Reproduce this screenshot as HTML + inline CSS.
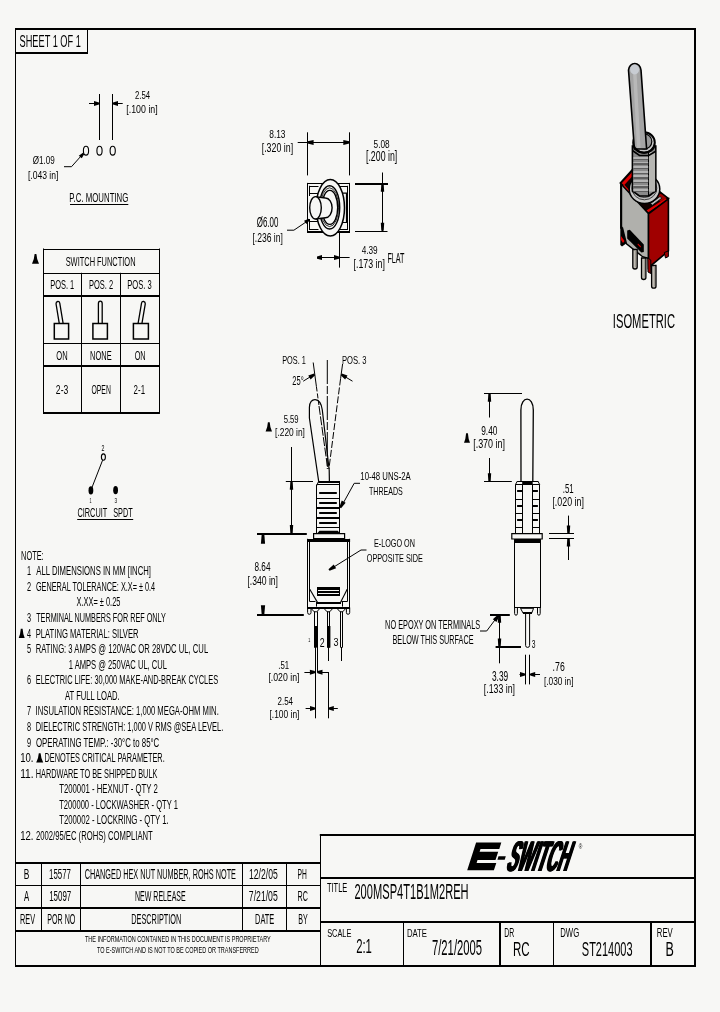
<!DOCTYPE html>
<html><head><meta charset="utf-8"><title>200MSP4T1B1M2REH</title>
<style>
html,body{margin:0;padding:0;background:#f7f7f5;}
body{width:720px;height:1012px;overflow:hidden;font-family:"Liberation Sans",sans-serif;}
svg{display:block;will-change:transform;}
</style></head><body>
<svg width="720" height="1012" viewBox="0 0 720 1012">
<rect x="0" y="0" width="720" height="1012" fill="#f7f7f5"/>
<rect x="15" y="28" width="681" height="2" fill="#000"/>
<rect x="15" y="28" width="1" height="938.5" fill="#000"/>
<rect x="694" y="28" width="2" height="938.5" fill="#000"/>
<rect x="15" y="965" width="681" height="2" fill="#000"/>
<rect x="87" y="28" width="1" height="25.6" fill="#000"/>
<rect x="15" y="52" width="73" height="2" fill="#000"/>
<text transform="translate(19.58 46.83) scale(0.5367 1)" font-size="17.18" font-family="Liberation Sans" fill="#000">SHEET 1 OF 1</text>
<rect x="99" y="94" width="1" height="46" fill="#000"/>
<rect x="112" y="94" width="1" height="46" fill="#000"/>
<rect x="89" y="103" width="10" height="1" fill="#000"/>
<rect x="113" y="103" width="9.7" height="1" fill="#000"/>
<polygon points="99,102.38 99,104.62 94,106 94,101" fill="#000"/>
<polygon points="113,102.38 113,104.62 118,106 118,101" fill="#000"/>
<text transform="translate(134.91 99.49) scale(0.7077 1)" font-size="10.99" font-family="Liberation Sans" fill="#000">2.54</text>
<text transform="translate(126.28 112.64) scale(0.7875 1)" font-size="11.23" font-family="Liberation Sans" fill="#000">[.100 in]</text>
<ellipse cx="86" cy="150.7" rx="2.6" ry="4.4" stroke="#000" stroke-width="1.1" fill="none"/>
<ellipse cx="99.5" cy="150.7" rx="2.6" ry="4.4" stroke="#000" stroke-width="1.1" fill="none"/>
<ellipse cx="112.7" cy="150.7" rx="2.6" ry="4.4" stroke="#000" stroke-width="1.1" fill="none"/>
<polyline points="64,166.7 71.5,166.7 81.5,155.5" stroke="#000" stroke-width="1" fill="none" stroke-linejoin="miter"/>
<polygon points="84.27,153.9 82.93,152.7 78.76,155.67 81.73,158.35" fill="#000"/>
<text transform="translate(32.72 163.72) scale(0.7176 1)" font-size="11.28" font-family="Liberation Sans" fill="#000">Ø1.09</text>
<text transform="translate(27.9 178.71) scale(0.7865 1)" font-size="10.91" font-family="Liberation Sans" fill="#000">[.043 in]</text>
<text transform="translate(69.37 201.68) scale(0.6315 1)" font-size="12.39" font-family="Liberation Sans" fill="#000">P.C. MOUNTING</text>
<rect x="70" y="204" width="58.3" height="1" fill="#000"/>
<rect x="307" y="132.3" width="1" height="43.1" fill="#000"/>
<rect x="349" y="132.3" width="1" height="43.1" fill="#000"/>
<rect x="297.7" y="142" width="51.8" height="1" fill="#000"/>
<polygon points="307.6,141.28 307.6,143.53 313.6,144.9 313.6,139.9" fill="#000"/>
<polygon points="349.3,141.28 349.3,143.53 343.3,144.9 343.3,139.9" fill="#000"/>
<text transform="translate(269.22 138.48) scale(0.7262 1)" font-size="11.55" font-family="Liberation Sans" fill="#000">8.13</text>
<text transform="translate(261.68 151.5) scale(0.6890 1)" font-size="12.83" font-family="Liberation Sans" fill="#000">[.320 in]</text>
<rect x="355" y="183" width="33" height="2" fill="#000"/>
<rect x="355" y="231" width="32.5" height="1" fill="#000"/>
<rect x="382" y="172.5" width="1" height="59" fill="#000"/>
<polygon points="381.31,183.8 383.69,183.8 384.2,191.8 380.8,191.8" fill="#000"/>
<polygon points="381.31,230.8 383.69,230.8 384.2,222.8 380.8,222.8" fill="#000"/>
<text transform="translate(373.57 147.88) scale(0.7150 1)" font-size="11.55" font-family="Liberation Sans" fill="#000">5.08</text>
<text transform="translate(365.99 161.26) scale(0.6270 1)" font-size="14.01" font-family="Liberation Sans" fill="#000">[.200 in]</text>
<rect x="307.2" y="183" width="42.8" height="1" fill="#000"/>
<rect x="307.2" y="231" width="42.8" height="2" fill="#000"/>
<rect x="307" y="182.9" width="1" height="50" fill="#000"/>
<rect x="349" y="182.9" width="1" height="50" fill="#000"/>
<rect x="309" y="186" width="9.5" height="1" fill="#000"/>
<rect x="339" y="186" width="9" height="1" fill="#000"/>
<rect x="309" y="229" width="9.5" height="1" fill="#000"/>
<rect x="339" y="229" width="9" height="1" fill="#000"/>
<rect x="309" y="185.8" width="1" height="10.2" fill="#000"/>
<rect x="309" y="219" width="1" height="11" fill="#000"/>
<rect x="347" y="185.8" width="1" height="44.2" fill="#000"/>
<rect x="310" y="193" width="8" height="1" fill="#000"/>
<rect x="310" y="221" width="8" height="1" fill="#000"/>
<polyline points="340,193.2 346.5,193.2 346.5,222.5 340,222.5" stroke="#000" stroke-width="1.2" fill="none" stroke-linejoin="miter"/>
<ellipse cx="330.3" cy="207.8" rx="14.2" ry="28.2" stroke="#000" stroke-width="1.5" fill="#f7f7f5"/>
<ellipse cx="329.6" cy="207.4" rx="10.1" ry="21.6" stroke="#000" stroke-width="1.4" fill="none"/>
<ellipse cx="329.6" cy="207.2" rx="9" ry="19.4" stroke="#000" stroke-width="0.8" fill="none"/>
<ellipse cx="329.8" cy="207.4" rx="7.9" ry="17" stroke="#000" stroke-width="1.4" fill="none"/>
<path d="M315.5,196.7 L325.5,198.0 A6.6,9.85 0 0 1 325.5,217.7 L315.5,219" stroke="#000" stroke-width="1.4" fill="#f7f7f5"/>
<ellipse cx="315.5" cy="207.8" rx="5.8" ry="11.2" stroke="#000" stroke-width="1.4" fill="#f7f7f5"/>
<polyline points="287,230.2 293.9,230.2 306,222" stroke="#000" stroke-width="1" fill="none" stroke-linejoin="miter"/>
<polygon points="309.81,220.34 308.79,218.86 304.05,220.79 306.32,224.08" fill="#000"/>
<text transform="translate(256.72 226.84) scale(0.5482 1)" font-size="14.5" font-family="Liberation Sans" fill="#000">Ø6.00</text>
<text transform="translate(252.4 242.17) scale(0.6345 1)" font-size="13.48" font-family="Liberation Sans" fill="#000">[.236 in]</text>
<rect x="339" y="233" width="1" height="34.6" fill="#000"/>
<rect x="317" y="257" width="32.6" height="1" fill="#000"/>
<polygon points="317,256.48 317,258.73 322,260.1 322,255.1" fill="#000"/>
<polygon points="339,256.48 339,258.73 334,260.1 334,255.1" fill="#000"/>
<text transform="translate(361.64 254.28) scale(0.7139 1)" font-size="11.55" font-family="Liberation Sans" fill="#000">4.39</text>
<text transform="translate(353.58 267.61) scale(0.6646 1)" font-size="13.26" font-family="Liberation Sans" fill="#000">[.173 in]</text>
<text transform="translate(387.42 262.8) scale(0.5139 1)" font-size="14.06" font-family="Liberation Sans" fill="#000">FLAT</text>
<path d="M620.3,183 L632,170 L668.4,198.5 L648.5,213.5 Z" stroke="#000" stroke-width="1.6" fill="#100000"/>
<polygon points="621.8,183.2 632.2,172 634.5,174 624,185.2" fill="#e00000"/>
<polygon points="646.5,210.5 665.5,198.3 667.3,199.6 648.4,212.3" fill="#e00000"/>
<polygon points="656,192 662,194.5 666.5,198 660,202" fill="#a00000"/>
<polygon points="622.5,185.5 624.5,185 629.5,190.5 627.5,192" fill="#e00000"/>
<path d="M650.5,203.5 L660,196.5 L661.8,198.2 L652.3,205.2 Z" stroke="#000" stroke-width="0.8" fill="#b8b8b8"/>
<path d="M620.8,183.8 L648.5,213.8 L648.5,258.5 L642.6,256.7 L626.5,243.8 L622.5,228 L620.8,228 Z" stroke="#000" stroke-width="1.4" fill="#b0b0ac"/>
<path d="M620.3,184 L622.2,186 L622.2,226 L626.2,243.5 L622,246.5 L620.3,245 Z" stroke="#000" stroke-width="0" fill="#000"/>
<polygon points="621,236 624.5,241 623,243 621,240" fill="#e00000"/>
<path d="M627.2,230.5 L629.8,229.8 L643.8,244.5 L643.8,252 L641.3,252.5 L627.2,238.5 Z" stroke="#000" stroke-width="0" fill="#000"/>
<polygon points="638,243.5 641,246.5 640.5,247.5 637.5,244.5" fill="#e00000"/>
<path d="M648.5,213.8 L668.4,198.8 L668.4,251 L648.5,267.7 Z" stroke="#000" stroke-width="1.6" fill="#a00000"/>
<path d="M664.3,252.5 L668.4,251 L668.4,256.5 L665.5,258 Z" stroke="#000" stroke-width="1" fill="#a00000"/>
<path d="M647.8,258 L650.8,260 L650.8,273.5 L648,272 Z" stroke="#000" stroke-width="1" fill="#a00000"/>
<path d="M632.8,249.5 L637.2,249.5 L637.2,267 Q637.2,269 635,269 Q632.8,269 632.8,267 Z" stroke="#000" stroke-width="1.3" fill="#c0bcb4"/>
<rect x="635" y="250.5" width="1" height="16.5" fill="#a09c94"/>
<path d="M641.5,258 L645.9,258 L645.9,277.5 Q645.9,279.5 643.7,279.5 Q641.5,279.5 641.5,277.5 Z" stroke="#000" stroke-width="1.3" fill="#c0bcb4"/>
<rect x="644" y="259" width="1" height="18.5" fill="#a09c94"/>
<path d="M651.6,265.5 L656,265.5 L656,286.2 Q656,288.2 653.8,288.2 Q651.6,288.2 651.6,286.2 Z" stroke="#000" stroke-width="1.3" fill="#c0bcb4"/>
<rect x="654" y="266.5" width="1" height="19.7" fill="#a09c94"/>
<ellipse cx="644.5" cy="189" rx="15.3" ry="14.6" stroke="#000" stroke-width="1.5" fill="#c8c8c8"/>
<ellipse cx="644.4" cy="188.2" rx="12.4" ry="11.6" stroke="#404040" stroke-width="1" fill="#bcbcbc"/>
<ellipse cx="644.3" cy="187.6" rx="10.8" ry="9.8" stroke="#303030" stroke-width="1" fill="#c4c4c4"/>
<path d="M632.4,146 L655.8,146 L655.8,191 L648.7,196 L639.5,196 L632.4,191 Z" stroke="#000" stroke-width="1.6" fill="#8a8a8a"/>
<rect x="648.7" y="152" width="6.4" height="39.5" fill="#b6b6b2"/>
<rect x="648" y="152" width="1" height="44" fill="#000"/>
<rect x="633.4" y="157" width="14.8" height="2" fill="#b4b4b4"/>
<rect x="633.4" y="159" width="14.8" height="1" fill="#5e5e5e"/>
<rect x="633.4" y="162" width="14.8" height="1" fill="#b4b4b4"/>
<rect x="633.4" y="163" width="14.8" height="2" fill="#5e5e5e"/>
<rect x="633.4" y="166" width="14.8" height="2" fill="#b4b4b4"/>
<rect x="633.4" y="168" width="14.8" height="1" fill="#5e5e5e"/>
<rect x="633.4" y="171" width="14.8" height="2" fill="#b4b4b4"/>
<rect x="633.4" y="173" width="14.8" height="1" fill="#5e5e5e"/>
<rect x="633.4" y="175" width="14.8" height="2" fill="#b4b4b4"/>
<rect x="633.4" y="177" width="14.8" height="2" fill="#5e5e5e"/>
<rect x="633.4" y="180" width="14.8" height="2" fill="#b4b4b4"/>
<rect x="633.4" y="182" width="14.8" height="1" fill="#5e5e5e"/>
<rect x="633.4" y="185" width="14.8" height="1" fill="#b4b4b4"/>
<rect x="633.4" y="186" width="14.8" height="2" fill="#5e5e5e"/>
<rect x="633.4" y="189" width="14.8" height="2" fill="#b4b4b4"/>
<rect x="633.4" y="191" width="14.8" height="1" fill="#5e5e5e"/>
<polyline points="632.4,150.5 639.5,155.5 648.7,155.5 655.8,151.3" stroke="#000" stroke-width="1.6" fill="none" stroke-linejoin="miter"/>
<ellipse cx="644" cy="142.5" rx="10.8" ry="10.2" stroke="#000" stroke-width="2" fill="#c8c8c8"/>
<ellipse cx="644.3" cy="141.5" rx="7.5" ry="7.5" stroke="#000" stroke-width="1.2" fill="#9a9a9a"/>
<path d="M628.5,70 A6.3,7.5 0 0 1 641,70 L646.6,149 L634.4,149 Z" stroke="#000" stroke-width="1.6" fill="#a4a4a4"/>
<path d="M633,72 L636.5,72 L640.5,148 L637,148 Z" stroke="#000" stroke-width="0" fill="#b8b8b8"/>
<ellipse cx="634.6" cy="69.5" rx="4.5" ry="5" stroke="none" stroke-width="0" fill="#c8ccd2"/>
<path d="M633.6,145 A10.6,9 0 0 0 654.6,145" stroke="#000" stroke-width="2" fill="none"/>
<text transform="translate(612.79 328.19) scale(0.5454 1)" font-size="20.56" font-family="Liberation Sans" fill="#000">ISOMETRIC</text>
<path d="M34.6,254 L36.4,254 Q36.8,259.88 39,263.8 L32,263.8 Q34.2,259.88 34.6,254 Z" stroke="#000" stroke-width="0" fill="#000"/>
<rect x="43" y="248.5" width="1" height="165.1" fill="#000"/>
<rect x="159" y="248.5" width="1" height="165.1" fill="#000"/>
<rect x="43" y="249" width="116.8" height="1" fill="#000"/>
<rect x="43" y="273" width="116.8" height="1" fill="#000"/>
<rect x="43" y="295" width="116.8" height="2" fill="#000"/>
<rect x="43" y="343" width="116.8" height="1" fill="#000"/>
<rect x="43" y="365" width="116.8" height="2" fill="#000"/>
<rect x="43" y="412" width="116.8" height="2" fill="#000"/>
<rect x="81" y="272.8" width="1" height="140.2" fill="#000"/>
<rect x="120" y="272.8" width="1" height="140.2" fill="#000"/>
<text transform="translate(65.66 265.67) scale(0.5689 1)" font-size="13.1" font-family="Liberation Sans" fill="#000">SWITCH FUNCTION</text>
<text transform="translate(50.2 288.56) scale(0.5454 1)" font-size="13.66" font-family="Liberation Sans" fill="#000">POS. 1</text>
<text transform="translate(89 288.56) scale(0.5487 1)" font-size="13.66" font-family="Liberation Sans" fill="#000">POS. 2</text>
<text transform="translate(127.19 288.56) scale(0.5563 1)" font-size="13.66" font-family="Liberation Sans" fill="#000">POS. 3</text>
<polygon points="54.3,323.5 68.6,323.5 68.6,339 54.3,339" stroke="#000" stroke-width="1.5" fill="none" stroke-linejoin="miter"/>
<path d="M63.07,323.19 L59.77,303.19 A1.9,2.28 0 0 0 56.03,303.81 L59.33,323.81" stroke="#000" stroke-width="1.3" fill="none"/>
<polygon points="92.9,323.5 107.4,323.5 107.4,339 92.9,339" stroke="#000" stroke-width="1.5" fill="none" stroke-linejoin="miter"/>
<path d="M102.2,323.5 L102.2,303.5 A1.9,2.28 0 0 0 98.4,303.5 L98.4,323.5" stroke="#000" stroke-width="1.3" fill="none"/>
<polygon points="133.4,323.5 148.4,323.5 148.4,339 133.4,339" stroke="#000" stroke-width="1.5" fill="none" stroke-linejoin="miter"/>
<path d="M141.87,323.82 L145.27,303.82 A1.9,2.28 0 0 0 141.53,303.18 L138.13,323.18" stroke="#000" stroke-width="1.3" fill="none"/>
<text transform="translate(56.26 359.67) scale(0.5837 1)" font-size="12.96" font-family="Liberation Sans" fill="#000">ON</text>
<text transform="translate(90.1 359.67) scale(0.5750 1)" font-size="12.96" font-family="Liberation Sans" fill="#000">NONE</text>
<text transform="translate(134.67 359.67) scale(0.5613 1)" font-size="12.96" font-family="Liberation Sans" fill="#000">ON</text>
<text transform="translate(55.87 394.17) scale(0.6664 1)" font-size="12.96" font-family="Liberation Sans" fill="#000">2-3</text>
<text transform="translate(91.49 394.17) scale(0.5278 1)" font-size="12.96" font-family="Liberation Sans" fill="#000">OPEN</text>
<text transform="translate(133.6 394.3) scale(0.6031 1)" font-size="13.14" font-family="Liberation Sans" fill="#000">2-1</text>
<text transform="translate(101.54 450.8) scale(0.5955 1)" font-size="8.86" font-family="Liberation Sans" fill="#000">2</text>
<ellipse cx="103.4" cy="457.1" rx="2" ry="3.2" stroke="#000" stroke-width="1.1" fill="none"/>
<line x1="102.6" y1="460.2" x2="91.2" y2="489.5" stroke="#000" stroke-width="1" stroke-linecap="butt"/>
<ellipse cx="90.9" cy="490.4" rx="2.4" ry="4.1" stroke="none" stroke-width="0" fill="#000"/>
<ellipse cx="115.6" cy="490.2" rx="2.4" ry="4.1" stroke="none" stroke-width="0" fill="#000"/>
<text transform="translate(89.52 503.2) scale(0.4700 1)" font-size="7.83" font-family="Liberation Sans" fill="#000">1</text>
<text transform="translate(114.41 503.12) scale(0.6090 1)" font-size="7.61" font-family="Liberation Sans" fill="#000">3</text>
<text transform="translate(77.43 516.67) scale(0.5886 1)" font-size="12.54" font-family="Liberation Sans" fill="#000">CIRCUIT</text>
<text transform="translate(113.17 516.67) scale(0.5830 1)" font-size="12.54" font-family="Liberation Sans" fill="#000">SPDT</text>
<rect x="77.2" y="519" width="56" height="1" fill="#000"/>
<text transform="translate(21.11 559.8) scale(0.5724 1)" font-size="12.9" font-family="Liberation Sans" fill="#000">NOTE:</text>
<text transform="translate(36.3 575.36) scale(0.5990 1)" font-size="12.9" font-family="Liberation Sans" fill="#000">ALL DIMENSIONS IN MM [INCH]</text>
<text transform="translate(27.05 575.36) scale(0.5700 1)" font-size="12.9" font-family="Liberation Sans">1</text>
<text transform="translate(35.93 590.92) scale(0.5660 1)" font-size="12.9" font-family="Liberation Sans" fill="#000">GENERAL TOLERANCE: X.X= ± 0.4</text>
<text transform="translate(27.09 590.92) scale(0.5700 1)" font-size="12.9" font-family="Liberation Sans">2</text>
<text transform="translate(76.51 606.48) scale(0.5765 1)" font-size="12.9" font-family="Liberation Sans" fill="#000">X.XX= ± 0.25</text>
<text transform="translate(36.15 622.04) scale(0.5629 1)" font-size="12.9" font-family="Liberation Sans" fill="#000">TERMINAL NUMBERS FOR REF ONLY</text>
<text transform="translate(27.01 622.04) scale(0.5700 1)" font-size="12.9" font-family="Liberation Sans">3</text>
<text transform="translate(35.69 637.6) scale(0.5937 1)" font-size="12.9" font-family="Liberation Sans" fill="#000">PLATING MATERIAL: SILVER</text>
<text transform="translate(26.94 637.6) scale(0.5700 1)" font-size="12.9" font-family="Liberation Sans">4</text>
<text transform="translate(35.69 653.16) scale(0.5949 1)" font-size="12.9" font-family="Liberation Sans" fill="#000">RATING: 3 AMPS @ 120VAC OR 28VDC  UL, CUL</text>
<text transform="translate(27.01 653.16) scale(0.5700 1)" font-size="12.9" font-family="Liberation Sans">5</text>
<text transform="translate(68.73 668.72) scale(0.5891 1)" font-size="12.9" font-family="Liberation Sans" fill="#000">1 AMPS @ 250VAC  UL, CUL</text>
<text transform="translate(35.7 684.28) scale(0.5784 1)" font-size="12.9" font-family="Liberation Sans" fill="#000">ELECTRIC LIFE: 30,000 MAKE-AND-BREAK CYCLES</text>
<text transform="translate(27.01 684.28) scale(0.5700 1)" font-size="12.9" font-family="Liberation Sans">6</text>
<text transform="translate(65 699.84) scale(0.5930 1)" font-size="12.9" font-family="Liberation Sans" fill="#000">AT FULL LOAD.</text>
<text transform="translate(35.61 715.4) scale(0.5957 1)" font-size="12.9" font-family="Liberation Sans" fill="#000">INSULATION RESISTANCE: 1,000 MEGA-OHM MIN.</text>
<text transform="translate(27.09 715.4) scale(0.5700 1)" font-size="12.9" font-family="Liberation Sans">7</text>
<text transform="translate(35.7 730.96) scale(0.5790 1)" font-size="12.9" font-family="Liberation Sans" fill="#000">DIELECTRIC STRENGTH: 1,000 V RMS @SEA LEVEL.</text>
<text transform="translate(27.01 730.96) scale(0.5700 1)" font-size="12.9" font-family="Liberation Sans">8</text>
<text transform="translate(35.95 746.52) scale(0.6082 1)" font-size="12.9" font-family="Liberation Sans" fill="#000">OPERATING TEMP.: -30°C to 85°C</text>
<text transform="translate(27.05 746.52) scale(0.5700 1)" font-size="12.9" font-family="Liberation Sans">9</text>
<text transform="translate(44.41 762.08) scale(0.5712 1)" font-size="12.9" font-family="Liberation Sans" fill="#000">DENOTES CRITICAL PARAMETER.</text>
<text transform="translate(20.18 762.08) scale(0.7435 1)" font-size="12.9" font-family="Liberation Sans" fill="#000">10.</text>
<text transform="translate(35.71 777.64) scale(0.5688 1)" font-size="12.9" font-family="Liberation Sans" fill="#000">HARDWARE TO BE SHIPPED BULK</text>
<text transform="translate(20.14 777.64) scale(0.7888 1)" font-size="12.9" font-family="Liberation Sans" fill="#000">11.</text>
<text transform="translate(59.14 793.2) scale(0.6027 1)" font-size="12.9" font-family="Liberation Sans" fill="#000">T200001 - HEXNUT - QTY 2</text>
<text transform="translate(59.15 808.76) scale(0.5877 1)" font-size="12.9" font-family="Liberation Sans" fill="#000">T200000 - LOCKWASHER - QTY 1</text>
<text transform="translate(59.14 824.32) scale(0.6037 1)" font-size="12.9" font-family="Liberation Sans" fill="#000">T200002 - LOCKRING - QTY 1.</text>
<text transform="translate(35.92 839.88) scale(0.5955 1)" font-size="12.9" font-family="Liberation Sans" fill="#000">2002/95/EC (ROHS) COMPLIANT</text>
<text transform="translate(20.18 839.88) scale(0.7435 1)" font-size="12.9" font-family="Liberation Sans" fill="#000">12.</text>
<path d="M20.8,628.7 L22.6,628.7 Q23,634.22 24.7,637.9 L18.7,637.9 Q20.4,634.22 20.8,628.7 Z" stroke="#000" stroke-width="0" fill="#000"/>
<path d="M38.8,753.18 L40.6,753.18 Q41,758.7 43.2,762.38 L36.2,762.38 Q38.4,758.7 38.8,753.18 Z" stroke="#000" stroke-width="0" fill="#000"/>
<text transform="translate(282.21 363.68) scale(0.6368 1)" font-size="11.55" font-family="Liberation Sans" fill="#000">POS. 1</text>
<text transform="translate(341.89 363.68) scale(0.6609 1)" font-size="11.55" font-family="Liberation Sans" fill="#000">POS. 3</text>
<text transform="translate(292.22 385.47) scale(0.5780 1)" font-size="13.1" font-family="Liberation Sans" fill="#000">25°</text>
<line x1="313.2" y1="362.5" x2="316.4" y2="386.5" stroke="#000" stroke-width="1" stroke-linecap="butt"/>
<path d="M316.4,386.5 L318.9,405" stroke="#000" stroke-width="1" fill="none" stroke-dasharray="5 2"/>
<line x1="342.6" y1="364" x2="340.6" y2="378.5" stroke="#000" stroke-width="1" stroke-linecap="butt"/>
<path d="M340.6,378.5 L328.9,469" stroke="#000" stroke-width="1" fill="none" stroke-dasharray="7 2"/>
<path d="M327.3,360 L327.3,469" stroke="#000" stroke-width="1" fill="none" stroke-dasharray="24 2 8 2"/>
<line x1="303.2" y1="381.2" x2="310" y2="377" stroke="#000" stroke-width="1" stroke-linecap="butt"/>
<polygon points="315.12,375.27 314.08,373.53 308.29,375.54 310.6,379.41" fill="#000"/>
<line x1="352.5" y1="381.2" x2="345.5" y2="377" stroke="#000" stroke-width="1" stroke-linecap="butt"/>
<polygon points="341.72,373.53 340.68,375.27 345.18,379.42 347.5,375.57" fill="#000"/>
<path d="M318.7,481.5 L309.4,418 L309.4,407.5 C309.4,397 320.5,396 322.3,410 L329.2,470 L329.4,481.5" stroke="#000" stroke-width="1.2" fill="none"/>
<path d="M319,406 L327.7,468.5" stroke="#000" stroke-width="1" fill="none" stroke-dasharray="9 1.5"/>
<rect x="318.3" y="481" width="21.3" height="2" fill="#000"/>
<rect x="317" y="484" width="22.6" height="1" fill="#000"/>
<line x1="316.8" y1="485.5" x2="318.6" y2="481.2" stroke="#000" stroke-width="1" stroke-linecap="butt"/>
<rect x="316" y="484.5" width="1" height="49" fill="#000"/>
<rect x="339" y="481" width="1" height="52.5" fill="#000"/>
<rect x="316.5" y="498" width="23.1" height="1" fill="#000"/>
<rect x="316.5" y="507" width="23.1" height="2" fill="#000"/>
<rect x="316.5" y="517" width="23.1" height="2" fill="#000"/>
<rect x="316.5" y="527" width="23.1" height="1" fill="#000"/>
<rect x="319.2" y="492" width="17.6" height="2" fill="#000"/>
<rect x="319.2" y="502" width="17.6" height="2" fill="#000"/>
<rect x="319.2" y="512" width="17.6" height="2" fill="#000"/>
<rect x="319.2" y="522" width="17.6" height="2" fill="#000"/>
<polygon points="317,533.6 319.5,530.8 337.8,530.8 340,533.6" fill="#000"/>
<polygon points="313.6,533.7 344.6,533.7 344.6,538.7 313.6,538.7" stroke="#000" stroke-width="1.2" fill="none" stroke-linejoin="miter"/>
<rect x="307.1" y="539" width="43" height="3" fill="#000"/>
<rect x="307" y="538.8" width="1" height="69.8" fill="#000"/>
<rect x="309" y="540.5" width="1" height="61" fill="#000"/>
<rect x="349" y="538.8" width="1" height="69.8" fill="#000"/>
<rect x="347" y="540.5" width="1" height="61" fill="#000"/>
<rect x="317" y="587" width="23" height="9" fill="#000"/>
<rect x="318" y="590" width="21" height="1" fill="#f7f7f5"/>
<rect x="318" y="593" width="21" height="1" fill="#f7f7f5"/>
<line x1="309.8" y1="589.2" x2="317.6" y2="602.6" stroke="#000" stroke-width="1.1" stroke-linecap="butt"/>
<line x1="347.2" y1="589.2" x2="340.5" y2="602.6" stroke="#000" stroke-width="1.1" stroke-linecap="butt"/>
<rect x="317" y="602" width="24" height="2" fill="#000"/>
<rect x="309.6" y="601" width="5.9" height="1" fill="#000"/>
<rect x="341.5" y="601" width="5.9" height="1" fill="#000"/>
<rect x="316" y="602" width="1" height="4.6" fill="#000"/>
<rect x="342" y="602" width="1" height="4.6" fill="#000"/>
<rect x="307.2" y="607" width="42.6" height="2" fill="#000"/>
<path d="M307.6,607.5 L307.6,612.5 Q307.6,614.3 309.3,614.3 Q311,614.3 311,612.5 L311,608.5" stroke="#000" stroke-width="1" fill="none"/>
<path d="M346.4,608.5 L346.4,612.5 Q346.4,614.3 348.1,614.3 Q349.7,614.3 349.7,612.5 L349.7,607.5" stroke="#000" stroke-width="1" fill="none"/>
<path d="M311,608.3 L320,608.3 L316.8,611.8 L314.2,611.8 Z" stroke="#000" stroke-width="1" fill="none"/>
<path d="M323.9,608.3 L332.9,608.3 L329.7,611.8 L327.1,611.8 Z" stroke="#000" stroke-width="1" fill="none"/>
<path d="M336.9,608.3 L345.9,608.3 L342.7,611.8 L340.1,611.8 Z" stroke="#000" stroke-width="1" fill="none"/>
<rect x="314" y="611.5" width="1" height="36.1" fill="#000"/>
<rect x="317" y="611.5" width="1" height="36.1" fill="#000"/>
<rect x="327" y="611.5" width="1" height="36.1" fill="#000"/>
<rect x="329" y="611.5" width="1" height="36.1" fill="#000"/>
<rect x="340" y="611.5" width="1" height="36.1" fill="#000"/>
<rect x="342" y="611.5" width="1" height="36.1" fill="#000"/>
<rect x="314.4" y="626" width="3.2" height="21.6" fill="#000"/>
<rect x="327.2" y="626" width="3.2" height="21.6" fill="#000"/>
<rect x="315" y="647" width="1" height="71.3" fill="#000"/>
<rect x="328" y="647" width="1" height="14" fill="#000"/>
<rect x="341" y="647" width="1" height="14" fill="#000"/>
<rect x="317" y="647" width="1" height="25.5" fill="#000"/>
<rect x="328" y="672" width="1" height="46.3" fill="#000"/>
<text transform="translate(308.32 641.6) scale(0.6859 1)" font-size="5.36" font-family="Liberation Sans" fill="#000">1</text>
<text transform="translate(319.66 647.4) scale(0.6838 1)" font-size="12.86" font-family="Liberation Sans" fill="#000">2</text>
<text transform="translate(333.54 646.09) scale(0.8034 1)" font-size="11.27" font-family="Liberation Sans" fill="#000">3</text>
<rect x="304.4" y="672" width="10.5" height="1" fill="#000"/>
<polygon points="314.9,671.08 314.9,673.33 309.9,674.7 309.9,669.7" fill="#000"/>
<rect x="317.5" y="672" width="11" height="1" fill="#000"/>
<polygon points="317.5,671.08 317.5,673.33 322.5,674.7 322.5,669.7" fill="#000"/>
<text transform="translate(278.3 668.69) scale(0.7008 1)" font-size="11.14" font-family="Liberation Sans" fill="#000">.51</text>
<text transform="translate(268.39 680.99) scale(0.7921 1)" font-size="11.02" font-family="Liberation Sans" fill="#000">[.020 in]</text>
<rect x="305.6" y="708" width="9.4" height="1" fill="#000"/>
<polygon points="315,707.38 315,709.62 310,711 310,706" fill="#000"/>
<rect x="328.8" y="708" width="9" height="1" fill="#000"/>
<polygon points="328.8,707.38 328.8,709.62 333.8,711 333.8,706" fill="#000"/>
<text transform="translate(277.5 704.79) scale(0.7563 1)" font-size="10.56" font-family="Liberation Sans" fill="#000">2.54</text>
<text transform="translate(269.51 717.62) scale(0.7413 1)" font-size="11.34" font-family="Liberation Sans" fill="#000">[.100 in]</text>
<path d="M267.9,422.2 L269.7,422.2 Q270.1,427.84 272,431.6 L265.6,431.6 Q267.5,427.84 267.9,422.2 Z" stroke="#000" stroke-width="0" fill="#000"/>
<text transform="translate(283.69 423.18) scale(0.6657 1)" font-size="11.55" font-family="Liberation Sans" fill="#000">5.59</text>
<text transform="translate(275.11 436.13) scale(0.7143 1)" font-size="11.76" font-family="Liberation Sans" fill="#000">[.220 in]</text>
<rect x="291" y="447" width="1" height="86.5" fill="#000"/>
<rect x="285.8" y="481" width="27.2" height="1" fill="#000"/>
<rect x="257" y="533" width="49.8" height="2" fill="#000"/>
<polygon points="290.31,481.8 292.69,481.8 293.2,489.8 289.8,489.8" fill="#000"/>
<polygon points="290.31,533 292.69,533 293.2,525 289.8,525" fill="#000"/>
<polygon points="261.63,535 264.37,535 265.1,543.7 260.9,543.7" fill="#000"/>
<polygon points="261.63,614 264.37,614 265.1,605.3 260.9,605.3" fill="#000"/>
<rect x="257" y="614" width="46.8" height="2" fill="#000"/>
<text transform="translate(254.53 570.67) scale(0.6180 1)" font-size="13.24" font-family="Liberation Sans" fill="#000">8.64</text>
<text transform="translate(247.4 584.5) scale(0.6708 1)" font-size="12.83" font-family="Liberation Sans" fill="#000">[.340 in]</text>
<text transform="translate(360.32 480.2) scale(0.7452 1)" font-size="10.42" font-family="Liberation Sans" fill="#000">10-48 UNS-2A</text>
<text transform="translate(368.96 495.48) scale(0.6066 1)" font-size="11.69" font-family="Liberation Sans" fill="#000">THREADS</text>
<polyline points="360,483.3 354.2,483.3 343,503.5" stroke="#000" stroke-width="1" fill="none" stroke-linejoin="miter"/>
<polygon points="339.32,507.2 341.08,508.2 345.64,502.75 341.73,500.51" fill="#000"/>
<text transform="translate(373.92 546.59) scale(0.6597 1)" font-size="10.99" font-family="Liberation Sans" fill="#000">E-LOGO ON</text>
<text transform="translate(366.77 562.08) scale(0.6229 1)" font-size="11.69" font-family="Liberation Sans" fill="#000">OPPOSITE SIDE</text>
<polyline points="366.5,550 361,550 333,567.5" stroke="#000" stroke-width="1" fill="none" stroke-linejoin="miter"/>
<polygon points="328.46,569.14 329.54,570.86 336.13,568.2 333.74,564.38" fill="#000"/>
<rect x="484" y="393" width="38" height="1" fill="#000"/>
<rect x="489" y="393.5" width="1" height="24" fill="#000"/>
<rect x="489" y="458" width="1" height="23.5" fill="#000"/>
<polygon points="488.31,393.8 490.69,393.8 491.2,401.8 487.8,401.8" fill="#000"/>
<polygon points="488.31,481.2 490.69,481.2 491.2,473.2 487.8,473.2" fill="#000"/>
<text transform="translate(481.22 434.66) scale(0.6123 1)" font-size="13.66" font-family="Liberation Sans" fill="#000">9.40</text>
<text transform="translate(473.17 447.81) scale(0.6756 1)" font-size="13.26" font-family="Liberation Sans" fill="#000">[.370 in]</text>
<path d="M466.1,433.2 L467.9,433.2 Q468.3,438.96 470,442.8 L464,442.8 Q465.7,438.96 466.1,433.2 Z" stroke="#000" stroke-width="0" fill="#000"/>
<rect x="484" y="481" width="27.8" height="1" fill="#000"/>
<path d="M521.0,481 L520.9,410 C520.9,395.5 533.3,395.5 533.3,410 L532.8,481" stroke="#000" stroke-width="1.3" fill="none"/>
<rect x="517.1" y="481" width="21.1" height="1" fill="#000"/>
<line x1="515.5" y1="484.5" x2="517.3" y2="481.2" stroke="#000" stroke-width="1" stroke-linecap="butt"/>
<line x1="539.7" y1="484.5" x2="537.9" y2="481.2" stroke="#000" stroke-width="1" stroke-linecap="butt"/>
<rect x="516" y="484" width="6.5" height="1" fill="#000"/>
<rect x="532.4" y="484" width="6.8" height="1" fill="#000"/>
<rect x="522.2" y="481.2" width="10.5" height="3.8" fill="#000"/>
<rect x="515" y="484.2" width="1" height="48.8" fill="#000"/>
<rect x="539" y="484.2" width="1" height="48.8" fill="#000"/>
<rect x="522" y="484.2" width="1" height="48.8" fill="#000"/>
<rect x="532" y="484.2" width="1" height="48.8" fill="#000"/>
<rect x="515.5" y="499" width="7" height="1" fill="#000"/>
<rect x="532.2" y="499" width="7.3" height="1" fill="#000"/>
<rect x="515.5" y="513" width="7" height="1" fill="#000"/>
<rect x="532.2" y="513" width="7.3" height="1" fill="#000"/>
<rect x="515.5" y="527" width="7" height="1" fill="#000"/>
<rect x="532.2" y="527" width="7.3" height="1" fill="#000"/>
<rect x="517.1" y="490" width="5" height="2" fill="#000"/>
<rect x="532.9" y="490" width="5" height="2" fill="#000"/>
<rect x="517.1" y="505" width="5" height="2" fill="#000"/>
<rect x="532.9" y="505" width="5" height="2" fill="#000"/>
<rect x="517.1" y="519" width="5" height="2" fill="#000"/>
<rect x="532.9" y="519" width="5" height="2" fill="#000"/>
<polygon points="511.8,533.6 542.2,533.6 542.2,539 511.8,539" stroke="#000" stroke-width="1.2" fill="none" stroke-linejoin="miter"/>
<rect x="514.2" y="539" width="26.5" height="4" fill="#000"/>
<rect x="514" y="539.3" width="1" height="68.7" fill="#000"/>
<rect x="540" y="539.3" width="1" height="68.7" fill="#000"/>
<rect x="514.1" y="607" width="26.6" height="1" fill="#000"/>
<path d="M514.6,607.8 L514.6,613.5 Q514.6,615.2 516,615.2 Q517.4,615.2 517.4,613.5 L517.4,607.8" stroke="#000" stroke-width="1" fill="none"/>
<path d="M537.5,607.8 L537.5,613.5 Q537.5,615.2 538.9,615.2 Q540.2,615.2 540.2,613.5 L540.2,607.8" stroke="#000" stroke-width="1" fill="none"/>
<path d="M520.5,608.3 L533.6,608.3 L531.6,613.3 L523.2,613.3 Z" stroke="#000" stroke-width="1" fill="none"/>
<rect x="523" y="612" width="9" height="2" fill="#000"/>
<path d="M525.6,614 L525.6,645.5 Q525.6,647.4 527.6,647.4 Q529.6,647.4 529.6,645.5 L529.6,614" stroke="#000" stroke-width="1" fill="none"/>
<text transform="translate(531.73 648.49) scale(0.6132 1)" font-size="10.99" font-family="Liberation Sans" fill="#000">3</text>
<text transform="translate(562.69 493.17) scale(0.6002 1)" font-size="13.14" font-family="Liberation Sans" fill="#000">.51</text>
<text transform="translate(552.38 505.79) scale(0.7152 1)" font-size="12.41" font-family="Liberation Sans" fill="#000">[.020 in]</text>
<rect x="549" y="533" width="25" height="1" fill="#000"/>
<rect x="549" y="538" width="25" height="1" fill="#000"/>
<rect x="568" y="515.6" width="1" height="17.9" fill="#000"/>
<rect x="568" y="538.5" width="1" height="21.5" fill="#000"/>
<polygon points="567.31,533.5 569.69,533.5 570.2,525.5 566.8,525.5" fill="#000"/>
<polygon points="567.31,538.5 569.69,538.5 570.2,546.5 566.8,546.5" fill="#000"/>
<rect x="490" y="614" width="19.8" height="2" fill="#000"/>
<rect x="495.6" y="646" width="25.4" height="2" fill="#000"/>
<rect x="499" y="614.5" width="1" height="48.8" fill="#000"/>
<polygon points="498.31,614.8 500.69,614.8 501.2,622.8 497.8,622.8" fill="#000"/>
<polygon points="498.31,646.5 500.69,646.5 501.2,638.5 497.8,638.5" fill="#000"/>
<text transform="translate(491.97 680.86) scale(0.5976 1)" font-size="13.94" font-family="Liberation Sans" fill="#000">3.39</text>
<text transform="translate(483.79 693.11) scale(0.7400 1)" font-size="11.87" font-family="Liberation Sans" fill="#000">[.133 in]</text>
<text transform="translate(385.11 628.78) scale(0.5925 1)" font-size="12.39" font-family="Liberation Sans" fill="#000">NO EPOXY ON TERMINALS</text>
<text transform="translate(392.42 643.87) scale(0.5441 1)" font-size="13.38" font-family="Liberation Sans" fill="#000">BELOW THIS SURFACE</text>
<polyline points="480,631 486.7,631 496,618.5" stroke="#000" stroke-width="1" fill="none" stroke-linejoin="miter"/>
<polygon points="499.7,615.82 498.1,614.58 492.84,619.37 496.4,622.12" fill="#000"/>
<rect x="525" y="654.7" width="1" height="29.7" fill="#000"/>
<rect x="529" y="654.7" width="1" height="29.7" fill="#000"/>
<rect x="519.5" y="674" width="5.5" height="1" fill="#000"/>
<polygon points="525,673.38 525,675.62 520,677 520,672" fill="#000"/>
<rect x="530" y="674" width="10" height="1" fill="#000"/>
<polygon points="530.2,673.38 530.2,675.62 535.2,677 535.2,672" fill="#000"/>
<text transform="translate(552.61 670.87) scale(0.6811 1)" font-size="12.82" font-family="Liberation Sans" fill="#000">.76</text>
<text transform="translate(543.92 685.33) scale(0.7069 1)" font-size="11.76" font-family="Liberation Sans" fill="#000">[.030 in]</text>
<rect x="15" y="862" width="305.5" height="2" fill="#000"/>
<rect x="15" y="885" width="305.5" height="1" fill="#000"/>
<rect x="15" y="907" width="305.5" height="2" fill="#000"/>
<rect x="15" y="930" width="305.5" height="2" fill="#000"/>
<rect x="41" y="862" width="1" height="69" fill="#000"/>
<rect x="80" y="862" width="1" height="69" fill="#000"/>
<rect x="242" y="862" width="1" height="69" fill="#000"/>
<rect x="286" y="862" width="1" height="69" fill="#000"/>
<text transform="translate(23.73 878.7) scale(0.5922 1)" font-size="14.2" font-family="Liberation Sans" fill="#000">B</text>
<text transform="translate(49.11 878.7) scale(0.5542 1)" font-size="14.2" font-family="Liberation Sans" fill="#000">15577</text>
<text transform="translate(84.73 878.7) scale(0.5140 1)" font-size="14.2" font-family="Liberation Sans" fill="#000">CHANGED HEX NUT NUMBER, ROHS NOTE</text>
<text transform="translate(249.05 878.7) scale(0.6057 1)" font-size="14.2" font-family="Liberation Sans" fill="#000">12/2/05</text>
<text transform="translate(297.56 878.7) scale(0.4713 1)" font-size="14.2" font-family="Liberation Sans" fill="#000">PH</text>
<text transform="translate(23.9 900.9) scale(0.5506 1)" font-size="14.2" font-family="Liberation Sans" fill="#000">A</text>
<text transform="translate(49.2 900.9) scale(0.5596 1)" font-size="14.2" font-family="Liberation Sans" fill="#000">15097</text>
<text transform="translate(135.04 900.9) scale(0.4948 1)" font-size="14.2" font-family="Liberation Sans" fill="#000">NEW RELEASE</text>
<text transform="translate(248.87 900.9) scale(0.6097 1)" font-size="14.2" font-family="Liberation Sans" fill="#000">7/21/05</text>
<text transform="translate(297.53 900.9) scale(0.5048 1)" font-size="14.2" font-family="Liberation Sans" fill="#000">RC</text>
<text transform="translate(20.02 923.9) scale(0.5200 1)" font-size="14.06" font-family="Liberation Sans" fill="#000">REV</text>
<text transform="translate(47.23 923.9) scale(0.5072 1)" font-size="14.06" font-family="Liberation Sans" fill="#000">POR NO</text>
<text transform="translate(131.21 923.9) scale(0.5226 1)" font-size="14.06" font-family="Liberation Sans" fill="#000">DESCRIPTION</text>
<text transform="translate(255 923.9) scale(0.5299 1)" font-size="14.06" font-family="Liberation Sans" fill="#000">DATE</text>
<text transform="translate(298.23 923.9) scale(0.5089 1)" font-size="14.06" font-family="Liberation Sans" fill="#000">BY</text>
<text transform="translate(84.99 941.6) scale(0.6347 1)" font-size="8.7" font-family="Liberation Sans" fill="#000">THE INFORMATION CONTAINED IN THIS DOCUMENT IS PROPRIETARY</text>
<text transform="translate(96.99 953) scale(0.6333 1)" font-size="8.7" font-family="Liberation Sans" fill="#000">TO E-SWITCH AND IS NOT TO BE COPIED OR TRANSFERRED</text>
<rect x="319.8" y="834" width="375.7" height="2" fill="#000"/>
<rect x="320" y="834" width="1" height="132.5" fill="#000"/>
<rect x="320" y="877" width="375.5" height="2" fill="#000"/>
<rect x="320" y="921" width="375.5" height="2" fill="#000"/>
<rect x="403" y="921" width="1" height="45" fill="#000"/>
<rect x="499" y="921" width="2" height="45" fill="#000"/>
<rect x="553" y="921" width="1" height="45" fill="#000"/>
<rect x="650" y="921" width="2" height="45" fill="#000"/>
<text transform="translate(326.95 891.9) scale(0.6073 1)" font-size="12.32" font-family="Liberation Sans" fill="#000">TITLE</text>
<text transform="translate(354.44 898.6) scale(0.5252 1)" font-size="21.16" font-family="Liberation Sans" fill="#000">200MSP4T1B1M2REH</text>
<text transform="translate(327.17 937.2) scale(0.6544 1)" font-size="11.3" font-family="Liberation Sans" fill="#000">SCALE</text>
<text transform="translate(356.13 953.3) scale(0.5635 1)" font-size="20.14" font-family="Liberation Sans" fill="#000">2:1</text>
<text transform="translate(406.88 937.2) scale(0.6876 1)" font-size="11.3" font-family="Liberation Sans" fill="#000">DATE</text>
<text transform="translate(431.94 955.3) scale(0.5089 1)" font-size="22.17" font-family="Liberation Sans" fill="#000">7/21/2005</text>
<text transform="translate(504.15 937) scale(0.5753 1)" font-size="12.03" font-family="Liberation Sans" fill="#000">DR</text>
<text transform="translate(512.88 956.2) scale(0.5816 1)" font-size="19.86" font-family="Liberation Sans" fill="#000">RC</text>
<text transform="translate(560.28 937) scale(0.6426 1)" font-size="12.03" font-family="Liberation Sans" fill="#000">DWG</text>
<text transform="translate(581.81 955.6) scale(0.5537 1)" font-size="19.86" font-family="Liberation Sans" fill="#000">ST214003</text>
<text transform="translate(656.78 937) scale(0.6456 1)" font-size="12.03" font-family="Liberation Sans" fill="#000">REV</text>
<text transform="translate(665.6 956) scale(0.6401 1)" font-size="19.57" font-family="Liberation Sans" fill="#000">B</text>
<path d="M476.1,842.5 L501.3,842.5 L499.3,848.9 L480.5,848.9 L479.6,851.8 L498.2,851.8 L495.5,860.1 L477.5,860.1 L476.6,863 L496.3,863 L493.9,870.2 L467.2,870.2 Z" stroke="#000" stroke-width="0" fill="#000"/>
<polygon points="498.5,856.3 505.8,856.3 504.7,859.8 497.4,859.8" fill="#000"/>
<text transform="translate(504.53 871.3) skewX(-18) scale(0.3636 1)" font-size="43" font-family="Liberation Sans" font-weight="bold">SWITCH</text>
<text transform="translate(505.08 871.3) skewX(-18) scale(0.3636 1)" font-size="43" font-family="Liberation Sans" font-weight="bold">SWITCH</text>
<text transform="translate(505.63 871.3) skewX(-18) scale(0.3636 1)" font-size="43" font-family="Liberation Sans" font-weight="bold">SWITCH</text>
<text transform="translate(506.13 871.3) skewX(-18) scale(0.3636 1)" font-size="43" font-family="Liberation Sans" font-weight="bold">SWITCH</text>
<text transform="translate(578.8 849) scale(0.6 1)" font-size="8" font-family="Liberation Sans">®</text>
</svg>
</body></html>
